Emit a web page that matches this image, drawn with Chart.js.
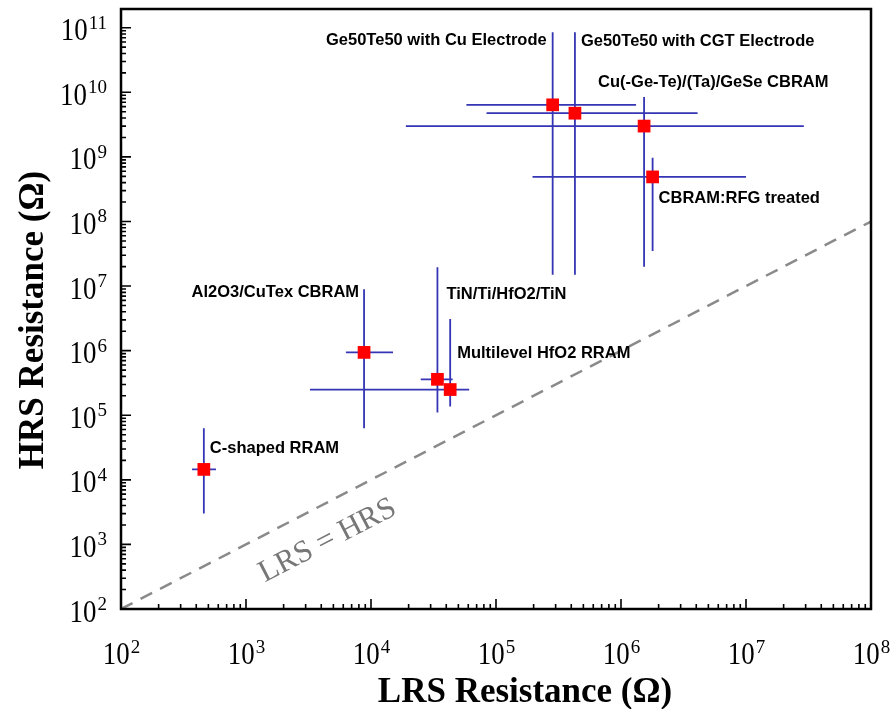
<!DOCTYPE html>
<html>
<head>
<meta charset="utf-8">
<script src="https://cdn.jsdelivr.net/npm/chart.js@4/dist/chart.umd.min.js"></script>
<style>
  body { margin: 0; background: #fff; }
  #wrap { width: 893px; height: 709px; position: relative; }
</style>
</head>
<body>
<div id="wrap"><canvas id="res_chart"></canvas></div>
<script>
// devices
const names = ["C-shaped RRAM", "Al2O3/CuTex CBRAM", "TiN/Ti/HfO2/TiN", "Multilevel HfO2 RRAM",
  "Ge50Te50 with Cu Electrode", "Ge50Te50 with CGT Electrode", "Cu(-Ge-Te)/(Ta)/GeSe CBRAM", "CBRAM:RFG treated"];
const lrs = [460, 8800, 34000, 43000, 284000, 428000, 1.53e6, 1.79e6];
const hrs = [1.45e4, 9.4e5, 3.6e5, 2.5e5, 6.4e9, 4.75e9, 3.0e9, 4.9e8];
const lrsMin = [370, 6300, 25000, 3250, 58000, 84000, 19000, 196000];
const lrsMax = [575, 15000, 45000, 61000, 1.32e6, 4.1e6, 2.9e7, 1.0e7];
const hrsMin = [3000, 6.3e4, 1.1e5, 1.37e5, 1.5e7, 1.5e7, 2.0e7, 3.5e7];
const hrsMax = [6.3e4, 8.9e6, 1.95e7, 3.1e6, 8.5e10, 8.5e10, 8.5e9, 9.7e8];

// LRS = HRS reference line
const diagX = [1e2, 1e8];
const diagY = [1e2, 1e8];

const xTicks = [1e2, 1e3, 1e4, 1e5, 1e6, 1e7, 1e8];
const yTicks = [1e2, 1e3, 1e4, 1e5, 1e6, 1e7, 1e8, 1e9, 1e10, 1e11];

// label placement relative to marker (px), text align
const labelPos = [
  [6, -21, "left"], [-5, -60, "right"], [9, -85, "left"], [7, -36, "left"],
  [-6, -64, "right"], [6, -72, "left"], [-46, -44, "left"], [6, 22, "left"]
];

const BLUE = "#3535b5";
const serif = '"Liberation Serif", "Times New Roman", serif';
const sans = '"Liberation Sans", Arial, sans-serif';

// draw "10" + raised exponent, right edge at x (baseline of base at y)
function powLabel(ctx, x, y, e) {
  ctx.save();
  ctx.textAlign = "left";
  ctx.font = "19px " + serif;
  const we = ctx.measureText(e).width;
  ctx.font = "32px " + serif;
  const wb = ctx.measureText("10").width * 0.84;
  ctx.translate(x - we - wb, y);
  ctx.save();
  ctx.scale(0.84, 1);
  ctx.fillText("10", 0, 0);
  ctx.restore();
  ctx.font = "19px " + serif;
  ctx.fillText(e, wb + 1, -11.5);
  ctx.restore();
  return we + wb;
}

const frame = {
  id: "frame",
  beforeDatasetsDraw(chart) {
    const ctx = chart.ctx, xs = chart.scales.x, ys = chart.scales.y;
    // error bars
    ctx.save();
    ctx.strokeStyle = BLUE;
    ctx.lineWidth = 1.8;
    for (let i = 0; i < lrs.length; i++) {
      const px = xs.getPixelForValue(lrs[i]), py = ys.getPixelForValue(hrs[i]);
      ctx.beginPath();
      ctx.moveTo(xs.getPixelForValue(lrsMin[i]), py);
      ctx.lineTo(xs.getPixelForValue(lrsMax[i]), py);
      ctx.moveTo(px, ys.getPixelForValue(hrsMin[i]));
      ctx.lineTo(px, ys.getPixelForValue(hrsMax[i]));
      ctx.stroke();
    }
    ctx.restore();
  },
  afterDraw(chart) {
    const ctx = chart.ctx, a = chart.chartArea, xs = chart.scales.x, ys = chart.scales.y;
    ctx.save();
    // frame
    ctx.strokeStyle = "#000";
    ctx.lineWidth = 2.5;
    ctx.strokeRect(a.left, a.top, a.right - a.left, a.bottom - a.top);

    // inside ticks
    ctx.lineWidth = 1.6;
    ctx.beginPath();
    xTicks.forEach((v, k) => {
      let p = xs.getPixelForValue(v);
      ctx.moveTo(p, a.bottom); ctx.lineTo(p, a.bottom - 10);
      if (k < xTicks.length - 1) {
        for (let m = 2; m < 10; m++) {
          p = xs.getPixelForValue(v * m);
          ctx.moveTo(p, a.bottom); ctx.lineTo(p, a.bottom - 5);
        }
      }
    });
    yTicks.forEach((v, k) => {
      let p = ys.getPixelForValue(v);
      ctx.moveTo(a.left, p); ctx.lineTo(a.left + 10, p);
      if (k < yTicks.length - 1) {
        for (let m = 2; m < 10; m++) {
          p = ys.getPixelForValue(v * m);
          ctx.moveTo(a.left, p); ctx.lineTo(a.left + 5, p);
        }
      }
    });
    ctx.stroke();

    // tick labels
    ctx.fillStyle = "#000";
    ctx.textBaseline = "alphabetic";
    xTicks.forEach((v) => {
      const p = xs.getPixelForValue(v);
      const e = String(Math.round(Math.log10(v)));
      ctx.font = "19px " + serif;
      const we = ctx.measureText(e).width;
      ctx.font = "32px " + serif;
      const wb = ctx.measureText("10").width * 0.84;
      powLabel(ctx, p + (wb + we) / 2, a.bottom + 55, e);
    });
    yTicks.forEach((v) => {
      const p = ys.getPixelForValue(v);
      const e = String(Math.round(Math.log10(v)));
      powLabel(ctx, 106, p + 12.5, e);
    });

    // axis titles
    ctx.font = "bold 35px " + serif;
    ctx.textAlign = "center";
    ctx.fillText("LRS Resistance (\u03A9)", 525, 702);
    ctx.save();
    ctx.translate(43, 320);
    ctx.rotate(-Math.PI / 2);
    ctx.fillText("HRS Resistance (\u03A9)", 0, 0);
    ctx.restore();

    // device labels
    ctx.font = "bold 16.5px " + sans;
    ctx.textBaseline = "middle";
    for (let i = 0; i < names.length; i++) {
      const px = xs.getPixelForValue(lrs[i]), py = ys.getPixelForValue(hrs[i]);
      ctx.textAlign = labelPos[i][2];
      ctx.fillText(names[i], px + labelPos[i][0], py + labelPos[i][1]);
    }

    // LRS = HRS text along the diagonal
    const x1 = xs.getPixelForValue(diagX[0]), y1 = ys.getPixelForValue(diagY[0]);
    const x2 = xs.getPixelForValue(diagX[1]), y2 = ys.getPixelForValue(diagY[1]);
    const ang = Math.atan2(y2 - y1, x2 - x1);
    const cx = xs.getPixelForValue(4100), cy = ys.getPixelForValue(4100);
    ctx.save();
    ctx.translate(cx + 5, cy + 36);
    ctx.rotate(ang);
    ctx.fillStyle = "#777";
    ctx.font = "31px " + serif;
    ctx.textAlign = "center";
    ctx.fillText("LRS = HRS", 0, 0);
    ctx.restore();

    ctx.restore();
  }
};

let res_chart = document.getElementById("res_chart");
let resChart = new Chart(res_chart, {
  type: "scatter",
  data: {
    datasets: [
      {
        label: "LRS = HRS",
        type: "line",
        data: diagX.map((x, i) => ({ x: x, y: diagY[i] })),
        borderColor: "#8a8a8a",
        borderWidth: 2.5,
        borderDash: [13, 9],
        pointRadius: 0,
        fill: false,
      },
      {
        label: "Devices",
        data: lrs.map((x, i) => ({ x: x, y: hrs[i] })),
        backgroundColor: "#ff0000",
        borderColor: "#ff0000",
        borderWidth: 0,
        pointStyle: "rect",
        pointRadius: 9,
      },
    ],
  },
  options: {
    responsive: true,
    maintainAspectRatio: false,
    animation: false,
    layout: { padding: { left: 121, top: 5, right: 22, bottom: 100 } },
    plugins: { legend: { display: false }, tooltip: { enabled: false } },
    scales: {
      x: { type: "logarithmic", min: 1e2, max: 1e8, display: false },
      y: { type: "logarithmic", min: 1e2, max: 1.95e11, display: false },
    },
  },
  plugins: [frame],
});
</script>
</body>
</html>
